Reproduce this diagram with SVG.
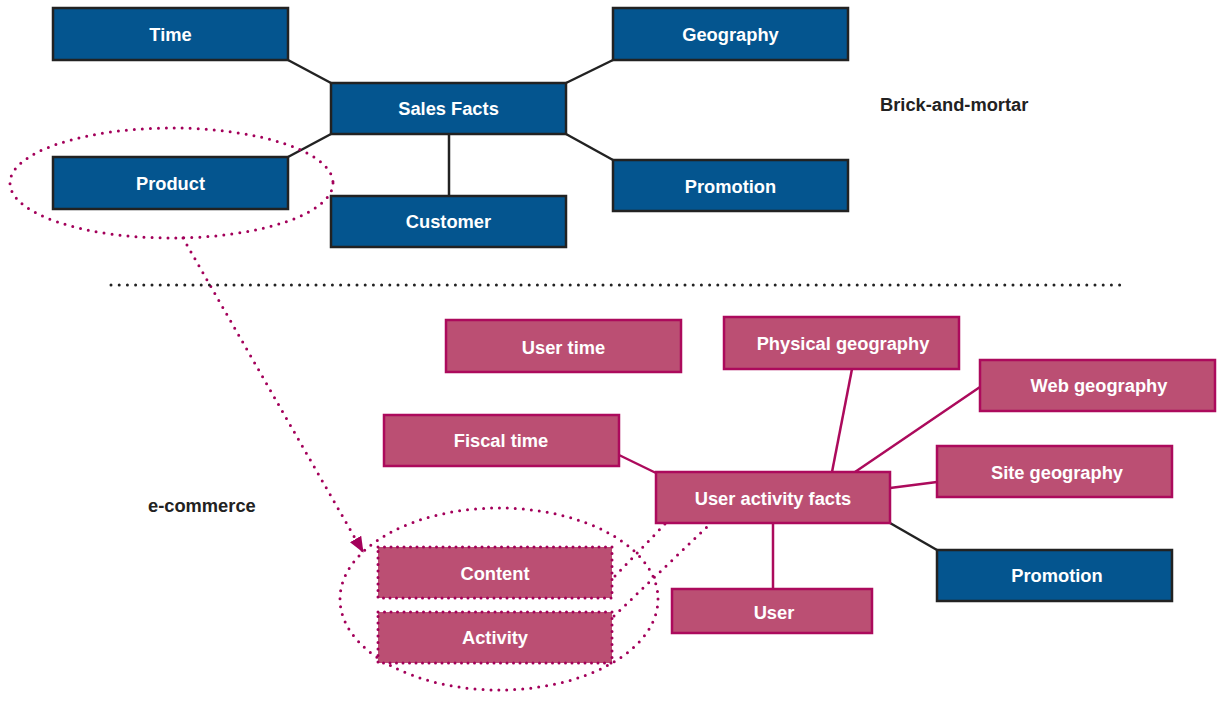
<svg xmlns="http://www.w3.org/2000/svg" width="1222" height="707" viewBox="0 0 1222 707">
<style>
.bn rect{fill:#04558f;stroke:#222;stroke-width:2.5}
.pn rect{fill:#bb4f73;stroke:#ac0a5c;stroke-width:2.5}
.dn rect{fill:#bb4f73;stroke:#a3005a;stroke-width:3;stroke-dasharray:0 6.5;stroke-linecap:round}
text{font-family:"Liberation Sans",Arial,sans-serif;font-weight:bold;font-size:18.3px;text-anchor:middle;dominant-baseline:central}
.n text{fill:#fff}
.lbl{fill:#222;font-size:18.3px;text-anchor:start}
.k{stroke:#222;stroke-width:2.5;fill:none}
.p{stroke:#ac0a5c;stroke-width:2.5;fill:none}
.d{stroke:#a3005a;stroke-width:3;fill:none;stroke-dasharray:0 8;stroke-linecap:round}
.dk{stroke:#222;stroke-width:3;fill:none;stroke-dasharray:0 8.2;stroke-linecap:round}
</style>
<defs>
<marker id="ah" markerWidth="16" markerHeight="13" refX="15" refY="6.5" orient="auto" markerUnits="userSpaceOnUse">
<path d="M0,0 L16,6.5 L0,13 Z" fill="#a3005a"/>
</marker>
</defs>
<g id="connectors">
<line class="k" x1="288" y1="60" x2="331" y2="83"/>
<line class="k" x1="613" y1="60" x2="566" y2="83"/>
<line class="k" x1="288" y1="157" x2="331" y2="134"/>
<line class="k" x1="613" y1="160" x2="566" y2="134"/>
<line class="k" x1="449" y1="134" x2="449" y2="196"/>
<line class="p" x1="852" y1="369" x2="832" y2="472"/>
<line class="p" x1="980" y1="387" x2="855" y2="472"/>
<line class="p" x1="619" y1="455" x2="656" y2="473"/>
<line class="p" x1="937" y1="482" x2="890" y2="488"/>
<line class="p" x1="773" y1="523" x2="773" y2="589"/>
<line class="k" x1="890" y1="523" x2="937" y2="550"/>
<line class="d" x1="615" y1="576" x2="665" y2="524"/>
<line class="d" x1="614" y1="616" x2="711" y2="523"/>
<line class="d" x1="183" y1="238" x2="363" y2="552" marker-end="url(#ah)"/>
<line class="dk" x1="111" y1="285" x2="1122" y2="285"/>
<ellipse class="d" cx="171.5" cy="183" rx="161.5" ry="55"/>
<ellipse class="d" cx="499" cy="599" rx="159" ry="91"/>
</g>
<g id="time" class="n bn"><rect x="53" y="8" width="235" height="52"/><text x="170.5" y="34">Time</text></g>
<g id="geography" class="n bn"><rect x="613" y="8" width="235" height="52"/><text x="730.5" y="34">Geography</text></g>
<g id="sales-facts" class="n bn"><rect x="331" y="83" width="235" height="51"/><text x="448.5" y="108">Sales Facts</text></g>
<g id="product" class="n bn"><rect x="53" y="157" width="235" height="52"/><text x="170.5" y="183">Product</text></g>
<g id="customer" class="n bn"><rect x="331" y="196" width="235" height="51"/><text x="448.5" y="221">Customer</text></g>
<g id="promotion" class="n bn"><rect x="613" y="160" width="235" height="51"/><text x="730.5" y="186">Promotion</text></g>
<text id="brick" class="lbl" x="880" y="104">Brick-and-mortar</text>
<text id="ecommerce" class="lbl" x="148" y="505">e-commerce</text>
<g id="user-time" class="n pn"><rect x="446" y="320" width="235" height="52"/><text x="563.5" y="347">User time</text></g>
<g id="physical-geography" class="n pn"><rect x="724" y="317" width="235" height="52"/><text x="843" y="343">Physical geography</text></g>
<g id="web-geography" class="n pn"><rect x="980" y="360" width="235" height="51"/><text x="1099" y="385">Web geography</text></g>
<g id="fiscal-time" class="n pn"><rect x="384" y="415" width="235" height="51"/><text x="501" y="440">Fiscal time</text></g>
<g id="site-geography" class="n pn"><rect x="937" y="446" width="235" height="51"/><text x="1057" y="472">Site geography</text></g>
<g id="user-activity-facts" class="n pn"><rect x="656" y="472" width="234" height="51"/><text x="773" y="498">User activity facts</text></g>
<g id="promotion2" class="n bn"><rect x="937" y="550" width="235" height="51"/><text x="1057" y="575">Promotion</text></g>
<g id="user" class="n pn"><rect x="672" y="589" width="200" height="44"/><text x="774" y="612">User</text></g>
<g id="content" class="n dn"><rect x="378" y="547" width="234" height="51"/><text x="495" y="573">Content</text></g>
<g id="activity" class="n dn"><rect x="378" y="612" width="234" height="51"/><text x="495" y="637">Activity</text></g>
</svg>
